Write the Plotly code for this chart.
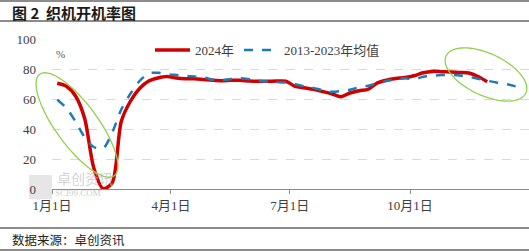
import numpy as np
import pandas as pd
import plotly.graph_objects as go

# ---- data (weekly readings, %) ----
start_2024 = "2024-01-05"
vals_2024 = [70.5, 68.5, 62, 47, 14, 0.3, 4, 45, 58.5, 67, 72, 74, 75, 74, 73.5, 73.5,
             73, 72.5, 72.2, 72.5, 72.5, 72, 71.8, 71.8, 72, 71.8, 68.5, 67.5, 66.5, 65,
             63.5, 61.5, 64, 65.5, 66.5, 70.7, 72.5, 73.6, 74.3, 75.5, 77.5, 78.4, 78.2,
             78, 77.7, 77.3, 75, 71.5]
vals_avg = [59.5, 54, 45, 34.5, 28, 27, 37.5, 53, 63.5, 72, 77, 77.5, 76.5, 76, 75.5, 75,
            74.5, 72.8, 72.6, 73.3, 73.8, 73.2, 72.2, 71.6, 71.3, 71, 69.8, 68.5, 67.4,
            65.8, 64.8, 65.3, 66.2, 67.7, 68.8, 70.5, 72, 73.2, 73.8, 73.2, 74.8, 75.5, 76,
            76, 75.7, 74.8, 73.5, 72.2, 71, 70, 68.6, 66.8]
dates_2024 = pd.date_range(start_2024, periods=len(vals_2024), freq="7D")
dates_avg = pd.date_range(start_2024, periods=len(vals_avg), freq="7D")

tick_vals = ["2024-01-01", "2024-04-01", "2024-07-01", "2024-10-01"]
tick_text = ["1月1日", "4月1日", "7月1日", "10月1日"]
y_ticks = [0, 20, 40, 60, 80, 100]

FONT = "Liberation Serif, Noto Sans CJK SC, serif"
CJK = "Noto Sans CJK SC, sans-serif"

fig = go.Figure()
fig.add_trace(go.Scatter(x=dates_2024, y=vals_2024, name="2024年", mode="lines",
                         line=dict(color="#D10000", width=3.5, shape="spline", smoothing=0.8)))
fig.add_trace(go.Scatter(x=dates_avg, y=vals_avg, name="2013-2023年均值", mode="lines",
                         line=dict(color="#1F7BB6", width=2.5, dash="dash", shape="spline", smoothing=0.8)))

W, H = 529, 251
L, R, T, B = 52, 0, 39, 62
pw, ph = W - L - R, H - T - B

def px2paper(px, py):
    return (px - L) / pw, (H - B - py) / ph

shapes = []
# horizontal rules
for py, col, w in [(1, "#8C8C8C", 2), (21, "#8C8C8C", 2), (228, "#8C8C8C", 2), (250, "#8C8C8C", 2)]:
    x0, y0 = px2paper(0, py)
    x1, _ = px2paper(W, py)
    shapes.append(dict(type="line", xref="paper", yref="paper", x0=x0, x1=x1, y0=y0, y1=y0,
                       line=dict(color=col, width=w)))

# highlight ellipses
def ellipse_path(cx, cy, a, b, deg):
    t = np.linspace(0, 2 * np.pi, 73)
    th = np.radians(deg)
    xs = cx + a * np.cos(t) * np.cos(th) - b * np.sin(t) * np.sin(th)
    ys = cy + a * np.cos(t) * np.sin(th) + b * np.sin(t) * np.cos(th)
    pts = [px2paper(x, y) for x, y in zip(xs, ys)]
    return "M " + " L ".join(f"{x:.4f},{y:.4f}" for x, y in pts) + " Z"

shapes.append(dict(type="path", xref="paper", yref="paper", path=ellipse_path(77, 125, 63, 21, 53.7),
                   line=dict(color="#92D050", width=1.3)))
shapes.append(dict(type="path", xref="paper", yref="paper", path=ellipse_path(486, 74.5, 44, 21, 25),
                   line=dict(color="#92D050", width=1.3)))

annotations = []
tx, ty = px2paper(10, 12)
annotations.append(dict(text="<b>图 2  织机开机率图</b>", xref="paper", yref="paper", x=tx, y=ty,
                        xanchor="left", yanchor="middle", showarrow=False,
                        font=dict(family=CJK, size=15, color="#1a1a1a")))
fx, fy = px2paper(10, 239)
annotations.append(dict(text="数据来源：卓创资讯", xref="paper", yref="paper", x=fx, y=fy,
                        xanchor="left", yanchor="middle", showarrow=False,
                        font=dict(family=CJK, size=12.5, color="#222222")))
ux, uy = px2paper(54, 54)
annotations.append(dict(text="%", xref="paper", yref="paper", x=ux, y=uy,
                        xanchor="left", yanchor="middle", showarrow=False,
                        font=dict(family=FONT, size=11, color="#595959")))
# watermark
wx, wy = px2paper(55, 178)
annotations.append(dict(text="卓创资讯", xref="paper", yref="paper", x=wx, y=wy,
                        xanchor="left", yanchor="middle", showarrow=False,
                        font=dict(family=CJK, size=14, color="rgba(190,190,190,0.7)")))
sx, sy = px2paper(53, 193)
annotations.append(dict(text="SCI99.COM", xref="paper", yref="paper", x=sx, y=sy,
                        xanchor="left", yanchor="middle", showarrow=False,
                        font=dict(family=FONT, size=9, color="rgba(190,190,190,0.8)")))
lx0, ly0 = px2paper(29, 175)
lx1, ly1 = px2paper(52, 199)
shapes.append(dict(type="rect", xref="paper", yref="paper", x0=lx0, x1=lx1, y0=ly1, y1=ly0,
                   fillcolor="rgba(200,200,200,0.45)", line=dict(width=0), layer="below"))

lgx, lgy = px2paper(150, 50)
fig.update_layout(
    width=W, height=H,
    margin=dict(l=L, r=R, t=T, b=B),
    paper_bgcolor="white", plot_bgcolor="white",
    showlegend=True,
    legend=dict(orientation="h", x=lgx, y=lgy, xanchor="left", yanchor="middle",
                font=dict(family=FONT, size=13, color="#404040"), bgcolor="rgba(0,0,0,0)",
                itemwidth=35, tracegroupgap=0),
    shapes=shapes, annotations=annotations,
    xaxis=dict(type="date", range=["2024-01-01", "2024-12-31"], tickvals=tick_vals, ticktext=tick_text,
               showgrid=False, showline=True, linecolor="#8C8C8C", linewidth=1,
               ticks="outside", ticklen=4, tickcolor="#8C8C8C",
               tickfont=dict(family=FONT, size=13, color="#404040"), zeroline=False),
    yaxis=dict(range=[0, 100], tickvals=y_ticks, showgrid=True, gridcolor="#D9D9D9",
               griddash="dash", gridwidth=1, zeroline=False, showline=False,
               tickfont=dict(family=FONT, size=13, color="#404040"), ticklabelstandoff=15),
)

fig.write_html("out.html")
